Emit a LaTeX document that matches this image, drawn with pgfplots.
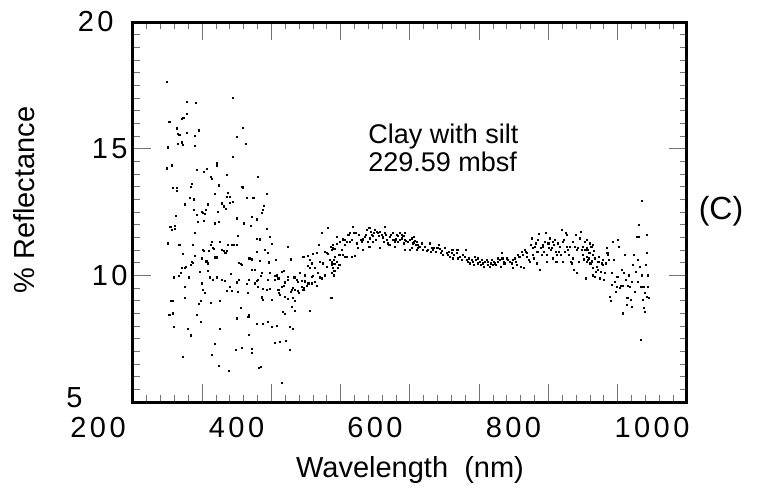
\documentclass[border=0pt]{standalone}
\usepackage{pgfplots}
\pgfplotsset{compat=1.18}
\usepackage{fontspec}
\setmainfont{Liberation Sans}
\newfontfamily\tickfont[LetterSpace=12]{Liberation Sans}
\begin{document}
\begin{tikzpicture}
\useasboundingbox (0pt,0pt) rectangle (378.5pt,-247pt);
\begin{axis}[
  at={(66.5pt,-201pt)}, anchor=south west,
  scale only axis, width=277pt, height=190pt,
  xmin=200, xmax=1000, ymin=5, ymax=20,
  xtick={200,300,...,1000},
  xticklabels={200,,400,,600,,800,,1000},
  minor x tick num=4,
  ytick={5,10,15,20}, yticklabels={},
  minor y tick num=9,
  tick align=inside,
  major tick length=9pt, minor tick length=3.5pt,
  tick style={black!55, line width=0.5pt},
  axis line style={line width=1.5pt},
  xticklabel style={font=\tickfont\fontsize{14.5}{16}\selectfont, xshift=-17.5pt, yshift=-4pt},
]
\addplot[only marks, mark=square*, mark size=0.28pt, mark options={draw=none, fill=black}] table {
x y
249.5 17.62
278.4 16.85
291 16.79
344.9 16.99
278.4 16.39
272.7 16.2
270.7 16.16
252.5 16.04
263 15.8
265.4 15.6
267 15.54
277.4 15.64
295.7 15.72
289.5 15.52
359.3 15.83
349.7 15.47
265 15.2
270 15.25
272 15.15
289.5 15.1
251 15.05
363 15.18
344.7 14.68
249.5 14.22
255.8 14.34
292.7 14.16
303 14.1
307 14.2
320.8 14.45
321.6 14.34
312 13.87
313.5 13.8
336 13.95
324.5 13.55
257 13.45
263 13.45
263 13.33
283 13.5
285.5 13.6
358 13.48
359 13.45
318.3 13.23
337.6 13.26
282.3 13.06
288.5 13.0
335 13.1
339.5 13.1
343.8 12.9
339.5 12.85
328 12.84
331 12.72
334 12.62
364 13.05
275 12.8
308.7 12.8
288 12.6
305.4 12.6
299.2 12.5
292.7 12.37
301.5 12.47
304 12.42
323 12.5
262 12.34
349.7 12.25
324.5 12.1
318.4 12.05
294.3 12.1
303 12.15
360 12.05
254 11.9
260.7 11.95
256 11.8
260.7 11.82
289.5 11.66
352 11.55
251 11.26
267 11.2
287 11.2
313.5 11.33
312.5 11.2
315 11.07
325.6 11.33
337.6 11.2
342.5 11.2
346 11.2
350.5 11.2
300.5 11.0
302.5 10.95
309.7 10.95
317 11.05
328 11.0
331 10.95
333.5 10.9
336 10.95
289.5 10.78
272.6 10.84
299 10.67
306 10.55
308.7 10.47
318.4 10.71
321.6 10.71
284.7 10.54
287 10.5
283.5 10.4
353.4 10.5
355.5 10.45
357.7 10.4
368 10.67
276.5 10.34
275.5 10.28
270 10.28
268.7 10.08
266.7 9.97
259.6 9.92
281 9.92
296.7 10.12
308.7 10.17
311 9.92
315.8 9.82
321.6 9.92
328 9.82
333 9.77
341.4 10.04
349.7 9.72
353.4 9.82
365 9.66
368 9.82
275 9.55
299 9.68
340 9.55
342.4 9.4
301.5 9.42
304 9.31
335.3 9.4
352 9.35
365.5 9.31
275 9.1
254.4 8.99
257.3 8.99
297.6 9.0
295.7 8.86
312.5 8.9
325.6 9.0
355.5 8.7
252.5 8.43
257.3 8.5
292.7 8.43
298.2 8.17
349.7 8.3
366.6 8.37
368 8.43
259.6 7.97
279.7 7.89
325.6 7.9
368 7.64
283.8 7.63
318.4 7.29
357 7.12
348.7 7.05
314.4 6.86
272.6 6.79
324.5 6.42
339 6.22
381 13.87
373.8 13.04
394 13.2
389.6 12.74
387.7 12.6
385.8 12.47
371.4 12.29
378.6 12.21
370.4 11.95
394 11.82
397.8 11.52
378.6 11.43
383.4 11.42
401 11.24
424.3 11.13
378.6 10.93
390.6 11.0
395.4 10.87
369 10.67
371.4 10.63
383.4 10.56
396.8 10.51
406 10.6
428 10.63
371.4 10.21
376.2 10.21
385.8 10.08
384.4 9.97
397.8 10.08
414.7 10.14
418.5 10.18
407.5 10.0
405 9.97
410 9.88
405.4 9.82
395.4 9.82
424.3 9.95
423.4 9.82
381 9.82
378.6 9.79
433 9.92
436.4 9.82
438.7 9.75
443.5 9.79
448.4 9.77
376 9.68
381 9.55
419.5 9.72
415.6 9.55
417.5 9.6
388 9.45
392.8 9.42
397.8 9.45
410 9.42
411 9.3
412.3 9.22
431.5 9.49
429.2 9.42
428 9.33
434 9.42
440 9.31
437.5 9.37
443.6 9.55
446 9.42
447.4 9.49
451 9.6
453.3 9.68
448.8 9.75
458 9.68
462.8 9.75
465.3 9.59
419.5 9.16
424.3 9.07
385.8 9.13
388.2 9.03
400.3 9.03
431.5 9.1
434 9.0
429.2 8.76
434 8.6
417 8.56
419.5 8.47
455.6 8.6
486 9.1
378.6 8.1
388 8.1
395.4 8.17
401 7.97
407.5 8.01
426.7 7.95
431.5 7.88
371.4 7.08
372.3 6.95
405 7.32
412.3 7.38
420.5 7.42
426.7 7.05
382.3 6.33
384.8 6.37
414.7 5.76
446 10.74
453 10.76
460.4 10.83
465.3 10.87
470 10.54
458 10.47
455.6 10.6
477.2 10.93
479.5 10.87
482 10.83
472.5 11.66
481 11.86
486 11.13
488.5 11.2
490.8 11.03
468.6 11.2
484.5 10.6
487.5 10.52
490.8 10.45
474.8 10.47
479.7 10.34
473.4 9.88
477.2 10.0
467.6 10.08
462.8 10.28
487.8 10.08
490.8 10.18
452.3 10.38
455.6 10.31
470 9.92
441 10.08
448.4 10.0
458 9.95
460.4 9.97
487 11.0
488.4 11.07
490.2 10.6
491.7 10.73
487 10.43
488.4 10.31
490.2 10.0
496.5 10.31
498 10.4
494 10.54
498 10.8
494 11.24
499 11.33
495 11.52
501.3 11.0
503.7 10.8
506 11.2
508.6 11.33
506 10.73
509.5 10.73
502.7 11.42
506 11.4
511 11.6
513.4 11.66
513.4 11.33
515.8 11.4
515.8 10.73
520.6 10.76
518 11.92
519 11.66
522 11.68
523 11.26
525.4 11.07
526.7 11.6
528.7 11.4
530.2 11.33
532.5 11.42
532.5 11.0
535 11.52
536.5 11.6
538 11.79
541.3 11.86
543.3 11.72
539.8 11.33
542.3 11.46
541.3 11.13
544.7 11.6
546.5 11.55
548 11.66
549.4 11.79
552 11.72
547 11.33
551 11.4
554.2 11.66
555.5 11.55
556.7 11.7
556.7 11.07
559 11.6
561 11.5
562.5 11.33
564 11.9
564 11.66
565.5 11.6
567.2 11.4
568.7 11.26
570.2 11.2
571 11.52
573 11.6
575 11.66
576 11.4
578 11.33
580 11.42
578.4 11.13
580.8 11.6
583 11.55
585.4 11.66
583 11.33
585.5 11.4
588 11.46
588 11.6
590.5 11.55
592.8 11.66
591.3 11.26
593 11.4
594.2 11.36
592.8 11.0
597.5 11.33
600 11.4
602.4 11.46
604 11.26
605.5 11.3
607.2 11.36
605.8 11.52
608.5 11.2
610.6 11.2
610.6 11.0
613.4 11.13
612 11.2
600 11.0
602.4 11.07
487 9.1
609.6 11.33
611 11.2
612 11.07
614.4 11.13
617 11.26
619.2 11.0
621.7 11.13
624 10.95
626.4 11.0
629 11.26
630.5 10.93
631.5 11.07
633.6 11.0
635 11.07
637 10.93
638.5 11.07
640.5 11.1
642 11.2
643.3 11.05
644.8 10.87
646.5 10.95
648 10.8
650.5 11.07
653 10.87
655.3 10.8
656.3 10.93
658 10.73
660.2 10.87
661.2 11.0
662.5 10.67
664 10.8
667.4 10.87
668.5 11.0
669.7 10.67
672.2 10.73
674.5 10.6
677 10.8
679.4 10.73
680.5 11.0
681.8 10.6
683.3 10.54
685 10.67
686.6 10.47
689 10.6
691 10.54
692.8 10.4
693.9 10.73
695.8 10.6
697.7 10.47
698.6 10.67
700.5 10.54
702.5 10.4
703.5 10.6
705.5 10.47
707.2 10.34
708.3 10.54
710.5 10.6
712.2 10.4
713 10.54
715 10.34
717 10.47
718 10.6
720 10.4
721.6 10.54
722.7 10.47
724.5 10.4
726.6 10.67
727.5 10.54
729.5 10.6
731.4 10.34
732.4 10.87
733.5 10.67
735 10.47
736 10.54
737 10.47
739.6 10.67
742 10.6
744.4 10.54
746.8 10.47
748 10.28
749 10.6
751.6 10.67
753.3 10.54
755 10.4
756.4 10.8
758 10.73
760 10.34
761.3 10.93
763 10.8
764.6 10.28
766 11.0
767.3 10.93
768.6 10.87
769.4 10.73
772 10.6
773.3 10.54
774 11.2
775.5 11.46
777 10.8
778 11.07
779 10.67
780.5 11.13
782 11.26
783 10.47
784 10.93
785.3 11.4
786.7 11.62
787.7 10.21
788.7 11.07
790 10.8
791.6 11.13
792.5 11.2
793.5 10.93
795 11.33
796.4 11.66
797.5 10.54
798.3 10.8
799.8 11.26
801 11.07
802 11.46
803 11.0
804.5 11.07
806 10.67
807 11.33
808.2 11.2
809.4 11.4
810.8 10.93
811.5 10.54
812.6 10.8
814 11.26
815.3 10.93
816.6 11.13
817.5 10.8
819 11.79
820.4 10.54
821.3 11.33
822.5 11.4
823.8 10.93
825.3 11.66
826 11.13
827 11.6
828.6 11.0
830 10.8
831 11.13
832 10.54
833.5 10.47
835 10.67
835.8 11.33
836.5 10.21
838 11.13
839.7 11.6
840.5 11.0
841.5 10.08
843 11.07
844 10.54
845.5 11.46
846.4 11.72
847.8 11.0
849.3 10.8
850.2 11.13
851.5 10.63
852.7 11.0
854.2 9.88
855 10.54
856 11.4
857.4 11.0
858.8 10.67
852.7 11.33
854 11.0
856 11.07
855.2 10.73
857 10.6
859 10.87
860 11.26
862 11.13
864 11.2
864.7 10.8
866 10.95
867 10.67
860.5 10.47
862.5 10.55
864 10.28
864.7 10.0
866.5 9.95
868.6 10.14
869.6 10.34
871 10.2
872 10.54
873.4 10.73
874.5 9.88
875.3 10.14
876.7 10.47
878 10.4
879 10.6
880 9.82
881.5 10.08
883 10.47
884 11.07
885 10.9
886.3 10.8
887 10.6
888.5 9.16
889.8 9.0
891.2 10.08
892 9.62
893.4 11.33
894.6 10.6
896 9.75
897.5 9.35
898.4 9.55
899.5 9.95
900.7 11.4
902.2 11.13
903 9.49
904.2 9.6
905.6 10.21
907 8.5
908 9.6
909 10.08
910.5 10.8
912 9.82
913 8.83
914 9.1
915.2 9.6
916.7 10.0
917.5 9.55
918.7 9.03
920 8.76
921 9.75
922.4 10.4
923.4 10.8
925 9.35
926.3 10.14
927.3 11.52
928.5 9.75
929.7 10.6
930.3 11.52
931.1 11.99
932.1 10.34
933 9.55
934.5 10.0
935.5 12.95
933.6 7.45
936 9.03
937 9.55
938 8.7
938.6 8.56
939.4 9.29
940.5 10.4
941.7 11.6
942.7 9.16
943.5 9.55
945.5 9.1
942.7 10.87
944 10.0
};
\end{axis}
\begin{scope}[x=0.5pt, y=-0.5pt]
\tikzset{tl/.style={anchor=east, inner sep=0pt, font=\tickfont\fontsize{14.5}{16}\selectfont}}
\node[tl] at (114,22) {20};
\node[tl] at (128,149) {15};
\node[tl] at (128,276) {10};
\node[tl] at (83,398) {5};
\node[anchor=north west, align=left, inner sep=0pt, font=\fontsize{13.5}{14}\selectfont] at (368,124) {Clay with silt\\229.59 mbsf};
\node[font=\fontsize{16}{18}\selectfont] at (721,211) {(C)};
\node[rotate=90, font=\fontsize{14.5}{16}\selectfont] at (24,200) {\% Reflectance};
\node[font=\fontsize{14.5}{16}\selectfont] at (410,470) {Wavelength\ \ (nm)};
\end{scope}
\end{tikzpicture}
\end{document}
